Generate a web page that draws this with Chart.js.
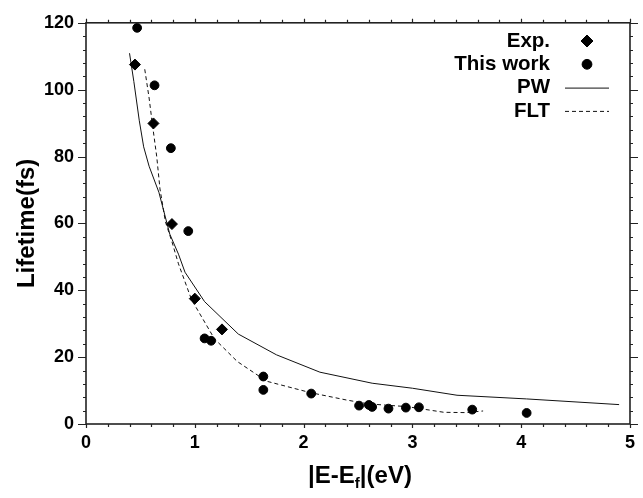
<!DOCTYPE html>
<html>
<head>
<meta charset="utf-8">
<script src="https://cdn.jsdelivr.net/npm/chart.js@4.4.1/dist/chart.umd.min.js"></script>
<style>
html,body{margin:0;padding:0;background:#fff;}
#wrap{width:643px;height:498px;position:relative;}
</style>
</head>
<body>
<div id="wrap"><canvas id="chart"></canvas></div>
<script>
// ================= DATA =================
const expX = [0.45, 0.62, 0.79, 1.00, 1.25];
const expY = [107.5, 89.9, 59.8, 37.5, 28.3];

const workX = [0.47, 0.63, 0.78, 0.94, 1.09, 1.15, 1.63, 1.63, 2.07, 2.51, 2.60, 2.63, 2.78, 2.94, 3.06, 3.55, 4.05];
const workY = [118.5, 101.3, 82.5, 57.7, 25.6, 24.9, 14.2, 10.2, 9.1, 5.5, 5.7, 5.1, 4.6, 4.9, 5.0, 4.3, 3.3];

const pwX = [0.40, 0.44, 0.49, 0.53, 0.58, 0.67, 0.77, 0.85, 0.91, 1.09, 1.40, 1.75, 2.15, 2.63, 3.00, 3.41, 4.05, 4.90];
const pwY = [110.9, 102.4, 90.7, 82.9, 77.1, 69.3, 56.8, 50.8, 45.4, 36.6, 26.9, 20.7, 15.5, 12.2, 10.7, 8.6, 7.5, 5.8];

const fltX = [0.54, 0.58, 0.61, 0.65, 0.68, 0.73, 0.79, 0.85, 0.97, 1.18, 1.39, 1.66, 2.06, 2.39, 2.60, 2.95, 3.29, 3.50, 3.65];
const fltY = [106.1, 97.5, 89.7, 80.0, 70.3, 60.5, 54.5, 47.9, 37.2, 25.5, 18.7, 12.8, 9.4, 7.2, 6.0, 5.2, 3.5, 3.4, 3.9];

const xTicks = [0, 1, 2, 3, 4, 5];
const yTicks = [0, 20, 40, 60, 80, 100, 120];
const seriesNames = ["Exp.", "This work", "PW", "FLT"];

// ================= STYLE =================
const FONT = "'Liberation Sans', Arial, sans-serif";
const AXIS = "#222";
const xMinor = 0.2, yMinor = 4;

function pts(xs, ys){
    return xs.map((v, i) => ({x: v, y: ys[i]}));
}

// axes frame, ticks, titles and legend
const frame = {
    id: "frame",
    afterDraw(c){
        const {ctx, chartArea: a, scales: {x, y}} = c;
        ctx.save();

        // frame
        ctx.strokeStyle = AXIS;
        ctx.lineWidth = 1.6;
        ctx.strokeRect(a.left, a.top, a.right - a.left, a.bottom - a.top);

        // x ticks (bottom + top, outward)
        ctx.lineWidth = 1.2;
        ctx.beginPath();
        for(let i = 0; i <= Math.round((x.max - x.min) / xMinor); i++){
            const v = x.min + i * xMinor;
            const px = Math.round(x.getPixelForValue(v)) + 0.5;
            const major = Math.abs(v - Math.round(v)) < 1e-6;
            const len = major ? 4 : 3;
            ctx.moveTo(px, a.bottom); ctx.lineTo(px, a.bottom + len);
            ctx.moveTo(px, a.top); ctx.lineTo(px, a.top - len);
        }
        // y ticks (left + right, outward)
        for(let i = 0; i <= Math.round((y.max - y.min) / yMinor); i++){
            const v = y.min + i * yMinor;
            const py = Math.round(y.getPixelForValue(v)) + 0.5;
            const major = v % 20 === 0;
            const len = major ? 8 : 3;
            ctx.moveTo(a.left, py); ctx.lineTo(a.left - len, py);
            ctx.moveTo(a.right, py); ctx.lineTo(a.right + len, py);
        }
        ctx.stroke();

        ctx.fillStyle = "#000";

        // y title
        ctx.save();
        ctx.translate(27, (a.top + a.bottom) / 2);
        ctx.rotate(-Math.PI / 2);
        ctx.font = "bold 24px " + FONT;
        ctx.textAlign = "center";
        ctx.textBaseline = "middle";
        ctx.fillText("Lifetime(fs)", 0, 0);
        ctx.restore();

        // x title with subscript
        const big = "bold 24px " + FONT, small = "bold 15px " + FONT;
        const p1 = "|E-E", p2 = "f", p3 = "|(eV)";
        ctx.font = big;
        const w1 = ctx.measureText(p1).width, w3 = ctx.measureText(p3).width;
        ctx.font = small;
        const w2 = ctx.measureText(p2).width;
        let tx = (a.left + a.right) / 2 - (w1 + w2 + w3) / 2 + 2;
        const ty = 483;
        ctx.textAlign = "left";
        ctx.textBaseline = "alphabetic";
        ctx.font = big; ctx.fillText(p1, tx, ty); tx += w1;
        ctx.font = small; ctx.fillText(p2, tx, ty + 5); tx += w2;
        ctx.font = big; ctx.fillText(p3, tx, ty);

        // legend
        const lx = 550, mx = 587, ly0 = 41, dy = 23.3;
        ctx.font = "bold 20.5px " + FONT;
        ctx.textAlign = "right";
        ctx.textBaseline = "middle";
        c.data.datasets.forEach((ds, i) => {
            const ly = ly0 + i * dy;
            ctx.fillStyle = "#000";
            ctx.fillText(seriesNames[i], lx, ly);
            if(ds.showLine){
                ctx.save();
                ctx.strokeStyle = ds.borderColor;
                ctx.lineWidth = ds.borderWidth;
                ctx.setLineDash(ds.borderDash || []);
                ctx.beginPath();
                ctx.moveTo(565, ly + 0.5); ctx.lineTo(609, ly + 0.5);
                ctx.stroke();
                ctx.restore();
            }else{
                ctx.fillStyle = ds.backgroundColor;
                ctx.strokeStyle = ds.borderColor;
                ctx.lineWidth = 1;
                Chart.helpers.drawPoint(ctx, {
                    pointStyle: ds.pointStyle, radius: ds.pointRadius + 0.5, rotation: 0, borderWidth: 1
                }, mx, ly);
            }
        });

        ctx.restore();
    }
};

// ================= CHART =================
const ctx = document.getElementById("chart").getContext("2d");

new Chart(ctx, {
    type: "scatter",
    data: {
        datasets: [
            {
                label: seriesNames[0],
                data: pts(expX, expY),
                pointStyle: "rectRot",
                pointRadius: 5.5,
                backgroundColor: "#000",
                borderColor: "#000",
                borderWidth: 1,
                order: 1
            },
            {
                label: seriesNames[1],
                data: pts(workX, workY),
                pointStyle: "circle",
                pointRadius: 4.4,
                backgroundColor: "#000",
                borderColor: "#000",
                borderWidth: 1,
                order: 2
            },
            {
                label: seriesNames[2],
                data: pts(pwX, pwY),
                showLine: true,
                pointRadius: 0,
                borderColor: "#111",
                borderWidth: 1,
                tension: 0,
                order: 3
            },
            {
                label: seriesNames[3],
                data: pts(fltX, fltY),
                showLine: true,
                pointRadius: 0,
                borderColor: "#111",
                borderWidth: 1,
                borderDash: [4, 3],
                tension: 0,
                order: 4
            }
        ]
    },
    options: {
        responsive: true,
        maintainAspectRatio: false,
        animation: false,
        layout: { autoPadding: false, padding: { left: 0, right: 4, top: 13, bottom: 0 } },
        plugins: { legend: { display: false }, tooltip: { enabled: false } },
        scales: {
            x: {
                type: "linear",
                min: xTicks[0],
                max: xTicks[xTicks.length - 1],
                afterBuildTicks: s => { s.ticks = xTicks.map(v => ({value: v})); },
                afterFit: s => { s.height = 74; },
                grid: { display: false, drawTicks: false },
                border: { display: false },
                ticks: {
                    color: "#000",
                    padding: 8,
                    font: { family: FONT, size: 18, weight: "bold" }
                }
            },
            y: {
                type: "linear",
                min: yTicks[0],
                max: yTicks[yTicks.length - 1],
                afterBuildTicks: s => { s.ticks = yTicks.map(v => ({value: v})); },
                afterFit: s => { s.width = 86; },
                grid: { display: false, drawTicks: false },
                border: { display: false },
                ticks: {
                    color: "#000",
                    padding: 12,
                    font: { family: FONT, size: 18, weight: "bold" }
                }
            }
        }
    },
    plugins: [frame]
});
</script>
</body>
</html>
